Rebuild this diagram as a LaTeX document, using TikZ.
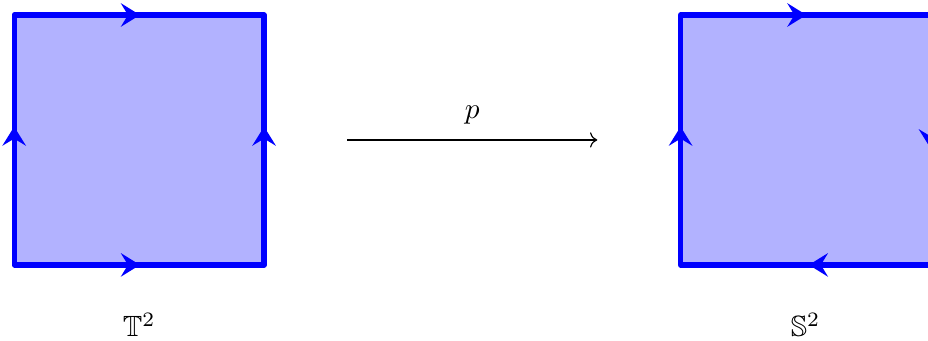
\documentclass[tikz,border=0pt]{standalone}
\usepackage{amssymb}
\usepackage{tikz}
\usetikzlibrary{arrows.meta,positioning,decorations.markings}
\tikzset{
  cell/.style={draw=blue, fill=blue!30, line width=1.8pt, line join=round},
  edgetip/.tip={Stealth[length=6.5pt, width=8pt, inset=2.4pt]},
  torusedges/.style={postaction={decorate}, decoration={markings,
      mark=at position 1.66cm with {\arrow{edgetip}},
      mark=at position 4.51cm with {\arrow{edgetip}},
      mark=at position 7.34cm with {\arrowreversed{edgetip}},
      mark=at position 10.49cm with {\arrowreversed{edgetip}}}},
  sphereedges/.style={postaction={decorate}, decoration={markings,
      mark=at position 1.66cm with {\arrow{edgetip}},
      mark=at position 4.51cm with {\arrow{edgetip}},
      mark=at position 7.6cm with {\arrow{edgetip}},
      mark=at position 10.46cm with {\arrow{edgetip}}}},
  maparrow/.style={->}
}

\begin{document}
\begin{tikzpicture}
  \useasboundingbox (-0.17,-0.91) rectangle (10.97,3.18);

  % the two squares
  \draw[cell, torusedges] (0,0) -- (0,3) -- (3,3) -- (3,0) -- cycle;
  \draw[cell, sphereedges] (8,0) -- (8,3) -- (11,3) -- (11,0) -- cycle;

  \node (torus) at (1.5,-0.72) {$\mathbb{T}^2$};
  \node (sphere) at (9.5,-0.72) {$\mathbb{S}^2$};

  % quotient map
  \coordinate (from) at (4,1.5);
  \coordinate (to) at (7,1.5);
  \draw[maparrow] (from) -- node[above=2pt] (map) {$p$} (to);
\end{tikzpicture}
\end{document}
